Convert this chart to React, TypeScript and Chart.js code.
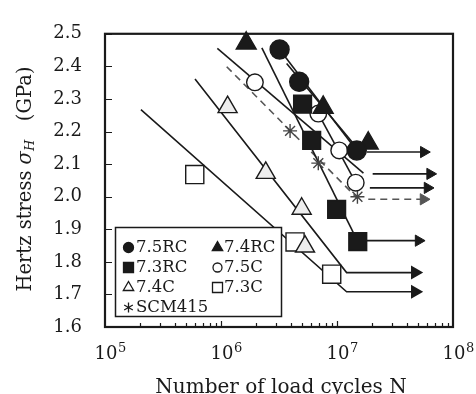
import React, { useEffect, useRef } from 'react';
import { Chart, registerables } from 'chart.js';

Chart.register(...registerables);

// ---- axis ticks ----
const yTickValues = [1.6, 1.7, 1.8, 1.9, 2.0, 2.1, 2.2, 2.3, 2.4, 2.5];
const xTickValues = [1e5, 1e6, 1e7, 1e8];
const xTickExponents = ['5', '6', '7', '8'];

// ---- measured points ----
const rc75X = [3.2e6, 4.72e6, 1.48e7];
const rc75Y = [2.452, 2.353, 2.142];
const rc74X = [1.65e6, 7.6e6, 1.86e7];
const rc74Y = [2.471, 2.274, 2.164];
const rc73X = [5.05e6, 6.05e6, 9.93e6, 1.51e7];
const rc73Y = [2.284, 2.173, 1.961, 1.862];
const c75X = [1.96e6, 6.9e6, 1.045e7, 1.45e7];
const c75Y = [2.351, 2.255, 2.142, 2.043];
const c74X = [1.14e6, 2.43e6, 4.96e6, 5.3e6];
const c74Y = [2.275, 2.073, 1.963, 1.847];
const c73X = [5.94e5, 4.35e6, 9.0e6];
const c73Y = [2.068, 1.861, 1.762];
const scmX = [3.94e6, 6.9e6, 1.5e7];
const scmY = [2.202, 2.103, 2.0];

// ---- fitted S-N lines ----
const fit75RCX = [3.2e6, 1.48e7];
const fit75RCY = [2.452, 2.142];
const fit74RCX = [3.68e6, 1.43e7];
const fit74RCY = [2.409, 2.157];
const fit73RCX = [2.25e6, 1.51e7];
const fit73RCY = [2.457, 1.862];
const fit75CX = [9.3e5, 1.69e7];
const fit75CY = [2.455, 2.072];
const fit75CbX = [6.9e6, 1.45e7];
const fit75CbY = [2.255, 2.043];
const fit74CX = [5.97e5, 1.21e7, 4.71e7];
const fit74CY = [2.361, 1.767, 1.767];
const fit73CX = [2.04e5, 1.21e7, 4.71e7];
const fit73CY = [2.267, 1.708, 1.708];
const fitScmX = [1.12e6, 1.5e7];
const fitScmY = [2.399, 1.995];

// ---- run-out arrows ----
const arrowStartX = [1.8e7, 2.03e7, 1.92e7, 1.86e7, 1.51e7];
const arrowEndX = [5.6e7, 6.35e7, 6.03e7, 5.57e7, 5.05e7];
const arrowY = [2.137, 2.07, 2.027, 1.992, 1.865];
const arrowDashed = [false, false, false, true, false];

const legendLabels = ['7.5RC', '7.4RC', '7.3RC', '7.5C', '7.4C', '7.3C', 'SCM415'];

const FONT = '"DejaVu Serif", "Liberation Serif", serif';
const INK = '#1a1a1a';

const pts = (xs: number[], ys: number[]) => xs.map((x, i) => ({ x, y: ys[i] }));

function drawMarker(ctx: CanvasRenderingContext2D, kind: string, x: number, y: number, s: number) {
  ctx.save();
  ctx.lineWidth = 1.3;
  ctx.strokeStyle = INK;
  ctx.beginPath();
  if (kind === 'circleF' || kind === 'circleO') {
    ctx.arc(x, y, s, 0, Math.PI * 2);
    ctx.fillStyle = kind === 'circleF' ? INK : '#fff';
    ctx.fill();
    ctx.stroke();
  } else if (kind === 'triF' || kind === 'triO') {
    const r = s * 1.2;
    ctx.moveTo(x, y - r);
    ctx.lineTo(x + r * Math.sin((2 * Math.PI) / 3), y - r * Math.cos((2 * Math.PI) / 3));
    ctx.lineTo(x + r * Math.sin((4 * Math.PI) / 3), y - r * Math.cos((4 * Math.PI) / 3));
    ctx.closePath();
    ctx.fillStyle = kind === 'triF' ? INK : '#fff';
    ctx.fill();
    ctx.stroke();
  } else if (kind === 'rectF' || kind === 'rectO') {
    ctx.rect(x - s, y - s, 2 * s, 2 * s);
    ctx.fillStyle = kind === 'rectF' ? INK : '#fff';
    ctx.fill();
    ctx.stroke();
  } else if (kind === 'star') {
    for (let k = 0; k < 3; k++) {
      const a = (k * Math.PI) / 3;
      ctx.moveTo(x + Math.sin(a) * s, y - Math.cos(a) * s);
      ctx.lineTo(x - Math.sin(a) * s, y + Math.cos(a) * s);
    }
    ctx.stroke();
  }
  ctx.restore();
}

const decorPlugin = {
  id: 'decor',
  beforeDatasetsDraw(chart: any) {
    const { ctx, chartArea: a, scales } = chart;
    const xs = scales.x;
    const ys = scales.y;
    ctx.save();
    ctx.strokeStyle = INK;
    ctx.lineWidth = 1.2;
    ctx.beginPath();
    // left inner ticks
    yTickValues.forEach((v) => {
      const py = Math.round(ys.getPixelForValue(v)) + 0.5;
      ctx.moveTo(a.left, py);
      ctx.lineTo(a.left + 7, py);
    });
    // bottom inner log ticks
    for (let e = 5; e < 8; e++) {
      for (let m = 1; m <= 9; m++) {
        const v = m * Math.pow(10, e);
        if (v <= 1e5) continue;
        const px = Math.round(xs.getPixelForValue(v)) + 0.5;
        const len = m === 1 ? 6 : 4;
        ctx.moveTo(px, a.bottom);
        ctx.lineTo(px, a.bottom - len);
      }
    }
    ctx.stroke();
    ctx.lineWidth = 2.2;
    ctx.strokeRect(a.left, a.top, a.right - a.left, a.bottom - a.top);
    ctx.restore();
  },
  afterDraw(chart: any) {
    const { ctx, chartArea: a, scales } = chart;
    const xs = scales.x;
    ctx.save();
    ctx.fillStyle = INK;
    // x tick labels 10^n
    xTickValues.forEach((v, i) => {
      const px = xs.getPixelForValue(v);
      ctx.font = `18px ${FONT}`;
      ctx.textBaseline = 'alphabetic';
      const w = ctx.measureText('10').width;
      ctx.textAlign = 'left';
      ctx.fillText('10', px - w / 2 + 1, 359);
      ctx.font = `13px ${FONT}`;
      ctx.fillText(xTickExponents[i], px + w / 2 + 1.5, 352);
    });
    // x title
    ctx.font = `20px ${FONT}`;
    ctx.textAlign = 'center';
    ctx.textBaseline = 'alphabetic';
    ctx.fillText('Number of load cycles N', (a.left + a.right) / 2 + 2, 393);

    // y title (rotated) with italic sigma_H
    ctx.save();
    ctx.translate(26, 179);
    ctx.rotate(-Math.PI / 2);
    const parts = [
      { t: 'Hertz stress ', f: `19.5px ${FONT}`, dy: 0 },
      { t: 'σ', f: `italic 19.5px ${FONT}`, dy: 0 },
      { t: 'H', f: `italic 13px ${FONT}`, dy: 5 },
      { t: '   (GPa)', f: `19.5px ${FONT}`, dy: 0 },
    ];
    let total = 0;
    parts.forEach((p) => {
      ctx.font = p.f;
      total += ctx.measureText(p.t).width;
    });
    let cx = -total / 2;
    ctx.textAlign = 'left';
    ctx.textBaseline = 'middle';
    parts.forEach((p) => {
      ctx.font = p.f;
      ctx.fillText(p.t, cx, p.dy);
      cx += ctx.measureText(p.t).width;
    });
    ctx.restore();

    // legend box
    const bx = 115.5, by = 227.5, bw = 166, bh = 89;
    ctx.fillStyle = '#fff';
    ctx.fillRect(bx, by, bw, bh);
    ctx.strokeStyle = INK;
    ctx.lineWidth = 1.5;
    ctx.strokeRect(bx, by, bw, bh);
    const kinds = ['circleF', 'triF', 'rectF', 'circleO', 'triO', 'rectO', 'star'];
    const sizes = [5, 5, 5, 4.5, 5, 5, 5];
    const rowsY = [247, 267, 287, 307];
    ctx.font = `16.5px ${FONT}`;
    ctx.textBaseline = 'middle';
    ctx.textAlign = 'left';
    legendLabels.forEach((lab, i) => {
      const col = i === 6 ? 0 : i % 2;
      const row = Math.floor(i / 2);
      const mx = col === 0 ? 128.5 : 217.5;
      const ty = rowsY[row];
      drawMarker(ctx, kinds[i], mx, ty + 0.5, sizes[i]);
      ctx.fillStyle = INK;
      ctx.fillText(lab, mx + (col === 0 ? 7.5 : 6.5), ty + 1);
    });
    ctx.restore();
  },
};

export default function App() {
  const ref = useRef<HTMLCanvasElement | null>(null);

  useEffect(() => {
    document.body.style.margin = '0';
    const canvas = ref.current;
    if (!canvas) return;

    const markerBase = { type: 'scatter' as const, showLine: false, order: 0, clip: false as any, borderWidth: 1.4 };
    const lineBase = {
      type: 'line' as const,
      showLine: true,
      order: 1,
      pointRadius: 0,
      borderColor: INK,
      borderWidth: 1.6,
      fill: false,
      tension: 0,
      clip: false as any,
    };

    const datasets: any[] = [
      { ...markerBase, label: '7.5RC', data: pts(rc75X, rc75Y), pointStyle: 'circle', pointRadius: 9.5, backgroundColor: INK, borderColor: INK },
      { ...markerBase, label: '7.4RC', data: pts(rc74X, rc74Y), pointStyle: 'triangle', pointRadius: 11.5, backgroundColor: INK, borderColor: INK },
      { ...markerBase, label: '7.3RC', data: pts(rc73X, rc73Y), pointStyle: 'rect', pointRadius: 12.6, backgroundColor: INK, borderColor: INK },
      { ...markerBase, label: '7.5C', data: pts(c75X, c75Y), pointStyle: 'circle', pointRadius: 8.3, backgroundColor: '#fff', borderColor: INK },
      { ...markerBase, label: '7.4C', data: pts(c74X, c74Y), pointStyle: 'triangle', pointRadius: 11, backgroundColor: '#eeeeee', borderColor: INK },
      { ...markerBase, label: '7.3C', data: pts(c73X, c73Y), pointStyle: 'rect', pointRadius: 12.8, backgroundColor: '#fff', borderColor: INK },
      { ...markerBase, label: 'SCM415', data: pts(scmX, scmY), pointStyle: 'star', pointRadius: 7, backgroundColor: '#444', borderColor: '#444' },
      { ...lineBase, label: 'fit 7.5RC', data: pts(fit75RCX, fit75RCY) },
      { ...lineBase, label: 'fit 7.4RC', data: pts(fit74RCX, fit74RCY) },
      { ...lineBase, label: 'fit 7.3RC', data: pts(fit73RCX, fit73RCY) },
      { ...lineBase, label: 'fit 7.5C', data: pts(fit75CX, fit75CY) },
      { ...lineBase, label: 'fit 7.5C b', data: pts(fit75CbX, fit75CbY) },
      {
        ...lineBase,
        label: 'fit 7.4C',
        data: pts(fit74CX, fit74CY),
        pointRadius: [0, 0, 6.5],
        pointStyle: 'triangle',
        rotation: 90,
        pointBackgroundColor: INK,
        pointBorderColor: INK,
      },
      {
        ...lineBase,
        label: 'fit 7.3C',
        data: pts(fit73CX, fit73CY),
        pointRadius: [0, 0, 6.5],
        pointStyle: 'triangle',
        rotation: 90,
        pointBackgroundColor: INK,
        pointBorderColor: INK,
      },
      { ...lineBase, label: 'fit SCM415', data: pts(fitScmX, fitScmY), borderColor: '#555', borderDash: [7, 5] },
    ];

    arrowY.forEach((y, i) => {
      const col = arrowDashed[i] ? '#555' : INK;
      datasets.push({
        ...lineBase,
        label: 'arrow ' + i,
        data: [
          { x: arrowStartX[i], y },
          { x: arrowEndX[i], y },
        ],
        borderColor: col,
        borderDash: arrowDashed[i] ? [7, 5] : [],
        pointRadius: [0, 6.5],
        pointStyle: 'triangle',
        rotation: 90,
        pointBackgroundColor: col,
        pointBorderColor: col,
        pointBorderWidth: 1,
      });
    });

    const chart = new Chart(canvas, {
      type: 'scatter',
      data: { datasets },
      options: {
        animation: false,
        responsive: false,
        devicePixelRatio: 1,
        layout: { padding: { top: 15, right: 23, left: 0, bottom: 0 } },
        plugins: { legend: { display: false }, tooltip: { enabled: false } },
        scales: {
          x: {
            type: 'logarithmic',
            min: 1e5,
            max: 1e8,
            grid: { display: false, drawTicks: false },
            border: { display: false },
            ticks: { display: false },
            afterBuildTicks: (s: any) => {
              s.ticks = xTickValues.map((v) => ({ value: v }));
            },
            afterFit: (s: any) => {
              s.height = 67;
            },
          },
          y: {
            type: 'linear',
            min: 1.6,
            max: 2.5,
            grid: { display: false, drawTicks: false },
            border: { display: false },
            afterBuildTicks: (s: any) => {
              s.ticks = yTickValues.map((v) => ({ value: v }));
            },
            ticks: {
              autoSkip: false,
              padding: 23,
              color: INK,
              font: { family: FONT, size: 18 },
              callback: (v: any) => Number(v).toFixed(1),
            },
            afterFit: (s: any) => {
              s.width = 105;
            },
          },
        },
      } as any,
      plugins: [decorPlugin],
    });

    return () => chart.destroy();
  }, []);

  return (
    <div style={{ width: 476, height: 394, background: '#fff' }}>
      <canvas ref={ref} width={476} height={394} />
    </div>
  );
}
